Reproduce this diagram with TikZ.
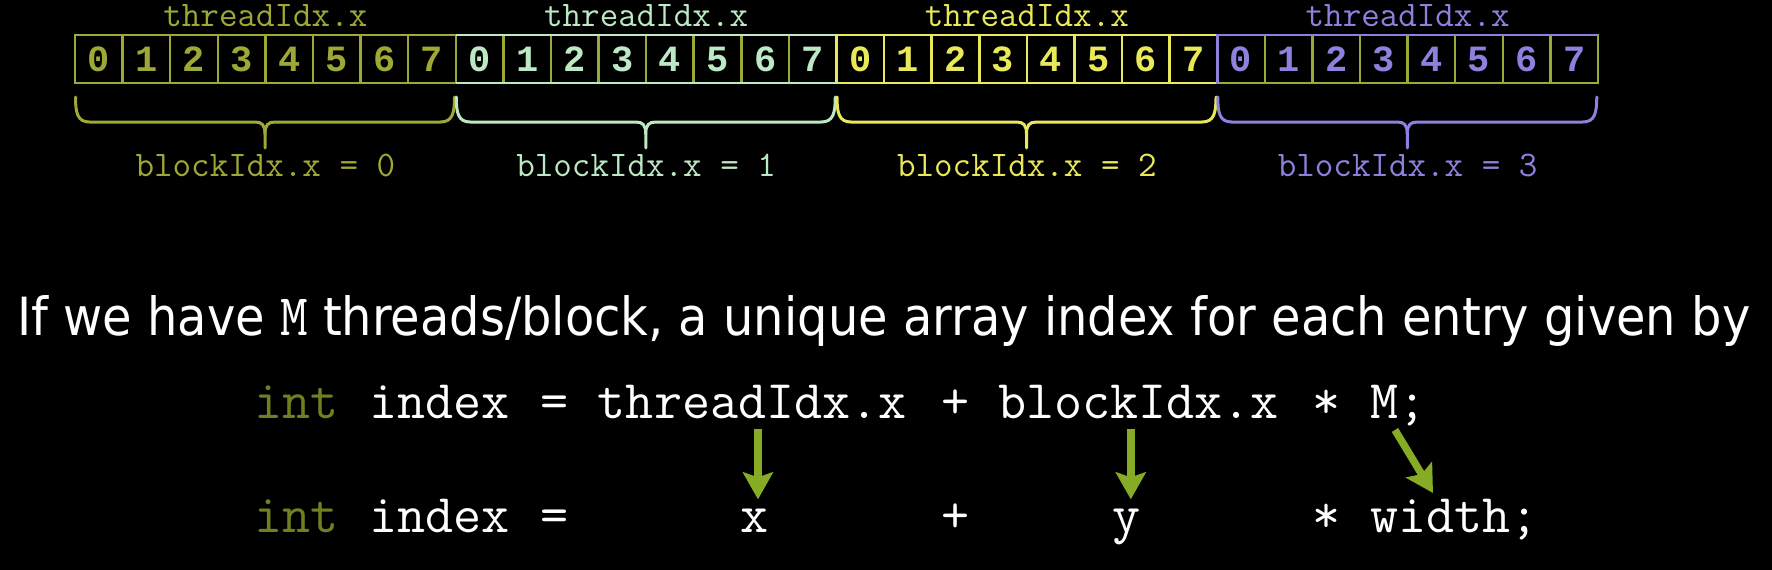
\documentclass[tikz,border=0pt]{standalone}
\usepackage{fontspec}
\setmainfont{DejaVu Sans}
\newfontfamily\digitfont{Liberation Mono}
\usetikzlibrary{arrows.meta,calc}
\definecolor{colA}{RGB}{158,168,52}
\definecolor{colB}{RGB}{188,232,196}
\definecolor{colC}{RGB}{232,232,88}
\definecolor{colD}{RGB}{140,130,222}
\definecolor{intcol}{RGB}{112,128,32}
\definecolor{arrcol}{RGB}{134,172,38}
\begin{document}
\begin{tikzpicture}[x=1pt,y=-1pt,
  cellbox/.style={draw=#1, line width=2.5pt, minimum width=47.59pt, minimum height=48pt,
    inner sep=0pt, outer sep=0pt, font=\fontsize{37}{40}\selectfont\digitfont\bfseries},
  lab/.style={font=\fontsize{36}{40}\selectfont\ttfamily, anchor=base, inner sep=0pt},
  code/.style={font=\fontsize{54.48}{60}\selectfont\ttfamily, anchor=base west, inner sep=0pt, text=white},
  garrow/.style={draw=arrcol, line width=7.5pt, -{Stealth[length=27pt,width=30pt,inset=5pt]}},
  bracepath/.style={draw=#1, line width=3pt, line cap=round, line join=round}
]
\fill[black] (0,0) rectangle (1772,570);
\useasboundingbox (0,0) rectangle (1772,570);

% cells
\foreach \b/\bc/\dc in {0/colA/colA,1/colB/colA,2/colC/colC,3/colD/colA} {
  \foreach \i in {0,...,7} {
    \pgfmathsetmacro\cx{75+(\b*8+\i+0.5)*47.59375}
    \node[cellbox=\dc, text=\bc] (c\b\i) at (\cx,59) {\i};
  }
}
\draw[colB, line width=2.5pt] (c10.north west) -- (c17.north east);
\draw[colB, line width=2.5pt] (c10.south west) -- (c17.south east);
\draw[colD, line width=2.5pt] (c30.south west) -- (c30.north west) -- (c37.north east);

% labels and braces
\foreach \b/\bc in {0/colA,1/colB,2/colC,3/colD} {
  \pgfmathsetmacro\mx{75+(\b*8+4)*47.59375}
  \pgfmathsetmacro\ba{75+\b*380.75+0.5}
  \pgfmathsetmacro\bb{\ba+379}
  \pgfmathsetmacro\bm{(\ba+\bb)/2}
  \node[lab, text=\bc] (t\b) at (\mx,26.5) {threadIdx.x};
  \node[lab, text=\bc] (bl\b) at (\mx,176) {blockIdx.x = \b};
  \draw[bracepath=\bc] (\ba,97) .. controls (\ba,113) and (\ba+2,122) .. (\ba+14,122)
     -- (\bm-10,122) .. controls (\bm-3,122) and (\bm,125) .. (\bm,134) -- (\bm,148);
  \draw[bracepath=\bc] (\bb,97) .. controls (\bb,113) and (\bb-2,122) .. (\bb-14,122)
     -- (\bm+10,122) .. controls (\bm+3,122) and (\bm,125) .. (\bm,134);
}

% sentence
\node[anchor=base west, inner sep=0pt, text=white] (sent) at (17,335)
  {\resizebox{1733pt}{40pt}{\fontsize{50}{60}\selectfont If we have {\fontsize{56}{60}\selectfont\ttfamily M} threads/block, a unique array index for each entry given by}};

% code lines
\def\xo{254.5}
\def\cw{28.602}
\node[code, text=intcol] (int1) at (\xo,418) {int};
\node[code] (idx1) at (\xo+4*\cw,418) {index};
\node[code] (eq1) at (\xo+10*\cw,418) {=};
\node[code] (tI) at (\xo+12*\cw,418) {threadIdx.x};
\node[code] (pl1) at (\xo+24*\cw,418) {+};
\node[code] (bI) at (\xo+26*\cw,418) {blockIdx.x};
\node[code] (st1) at (\xo+37*\cw,418) {*};
\node[code] (Mv) at (\xo+39*\cw,418) {M;};

\node[code, text=intcol] (int2) at (\xo,532) {int};
\node[code] (idx2) at (\xo+4*\cw,532) {index};
\node[code] (eq2) at (\xo+10*\cw,532) {=};
\node[code] (xv) at (\xo+17*\cw,532) {x};
\node[code] (pl2) at (\xo+24*\cw,532) {+};
\node[code] (yv) at (\xo+30*\cw,532) {y};
\node[code] (st2) at (\xo+37*\cw,532) {*};
\node[code] (wv) at (\xo+39*\cw,532) {width;};

% arrows
\draw[garrow] ($(xv.north |- tI.south)+(3,10)$) -- ($(xv.north)+(3,-9)$);
\draw[garrow] ($(yv.north |- bI.south)+(4,10)$) -- ($(yv.north)+(4,-9)$);
\draw[garrow] ($(Mv.base west)+(25,12)$) -- ($(wv.base west)+(63,-39)$);
\end{tikzpicture}
\end{document}
